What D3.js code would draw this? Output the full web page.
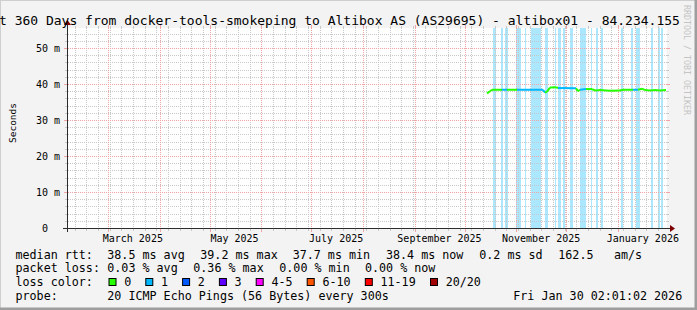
<!DOCTYPE html>
<html>
<head>
<meta charset="utf-8">
<script src="https://cdn.jsdelivr.net/npm/d3@7"></script>
<style>
  body { margin: 0; background: #f3f3f3; }
  svg { display: block; }
  text { font-family: "DejaVu Sans Mono", monospace; fill: #000; white-space: pre; }
</style>
</head>
<body>
<script>
// ---- data ----
let startTime = new Date(Date.UTC(2025, 1, 4, 12));
let endTime = new Date(Date.UTC(2026, 0, 30, 12));

let yTicksMajor = [0, 10, 20, 30, 40, 50];
let yTickLabels = [" 0", "10 m", "20 m", "30 m", "40 m", "50 m"];
let monthLabels = ["March 2025", "May 2025", "July 2025", "September 2025", "November 2025", "January 2026"];

// periods with one packet lost (light blue background)
let lossBands = [
    ["2025-10-18T07:00Z", "2025-10-19T17:00Z"],
    ["2025-10-22T22:00Z", "2025-10-24T02:00Z"],
    ["2025-10-25T07:00Z", "2025-10-26T22:00Z"],
    ["2025-10-31T22:00Z", "2025-11-03T17:00Z"],
    ["2025-11-06T12:00Z", "2025-11-07T02:00Z"],
    ["2025-11-09T22:00Z", "2025-11-15T17:00Z"],
    ["2025-11-18T12:00Z", "2025-11-20T02:00Z"],
    ["2025-11-24T07:00Z", "2025-11-25T02:00Z"],
    ["2025-11-26T02:00Z", "2025-11-27T22:00Z"],
    ["2025-11-29T07:00Z", "2025-11-30T12:00Z"],
    ["2025-12-03T07:00Z", "2025-12-05T02:00Z"],
    ["2025-12-09T07:00Z", "2025-12-12T22:00Z"],
    ["2025-12-15T22:00Z", "2025-12-16T16:00Z"],
    ["2025-12-18T22:00Z", "2025-12-20T02:00Z"],
    ["2025-12-21T22:00Z", "2025-12-23T02:00Z"],
    ["2026-01-02T22:00Z", "2026-01-03T22:00Z"],
    ["2026-01-08T17:00Z", "2026-01-09T22:00Z"],
    ["2026-01-11T22:00Z", "2026-01-14T07:00Z"],
    ["2026-01-20T17:00Z", "2026-01-21T22:00Z"],
    ["2026-01-24T22:00Z", "2026-01-26T03:00Z"],
    ["2026-01-26T22:00Z", "2026-01-27T22:00Z"]
];

// median rtt (ms) and loss count bucket of the following segment
let medianTimes = ["2025-10-14T12:00Z", "2025-10-16T07:00Z", "2025-10-17T12:00Z", "2025-10-23T12:00Z",
    "2025-10-26T12:00Z", "2025-11-01T12:00Z", "2025-11-17T02:00Z", "2025-11-18T07:00Z", "2025-11-19T12:00Z",
    "2025-11-21T07:00Z", "2025-11-24T22:00Z", "2025-11-26T02:00Z", "2025-12-06T22:00Z", "2025-12-08T02:00Z",
    "2025-12-09T07:00Z", "2025-12-12T22:00Z", "2025-12-16T12:00Z", "2025-12-18T07:00Z", "2025-12-21T07:00Z",
    "2025-12-27T07:00Z", "2026-01-02T07:00Z", "2026-01-04T02:00Z", "2026-01-10T02:00Z", "2026-01-13T02:00Z",
    "2026-01-15T12:00Z", "2026-01-17T07:00Z", "2026-01-20T07:00Z", "2026-01-23T07:00Z", "2026-01-26T07:00Z",
    "2026-01-29T22:00Z"];
let medianValues = [37.4, 38.0, 38.4, 38.4, 38.4, 38.4, 38.4, 37.6, 37.9, 39.0, 39.1, 38.9, 38.8, 38.0,
    38.4, 38.6, 38.6, 38.2, 38.3, 38.1, 38.2, 38.4, 38.4, 38.4, 38.7, 38.3, 38.2, 38.3, 38.2, 38.3];
let medianLoss = [0, 0, 0, 1, 0, 1, 1, 0, 0, 0, 0, 1, 0, 0, 1, 0, 0, 0, 0, 0, 0, 0, 1, 0, 0, 0, 0, 0, 0, 0];

let lossColors = ["#26ff00", "#00b8ff", "#0059ff", "#5e00ff", "#ff00ff", "#ff5500", "#ff0000", "#a10000"];
let lossNames = ["0", "1", "2", "3", "4-5", "6-10", "11-19", "20/20"];

// ---- layout ----
let W = 697, H = 310;
let plot = { left: 67, right: 667, top: 28, bottom: 228 };

let svg = d3.select("body").append("svg")
    .attr("width", W)
    .attr("height", H);

// dotted grid patterns (one pixel on, one off)
let defs = svg.append("defs");
function dotPattern(id, col, vertical) {
    let p = defs.append("pattern").attr("id", id).attr("patternUnits", "userSpaceOnUse")
        .attr("width", vertical ? 1 : 2).attr("height", vertical ? 2 : 1);
    p.append("rect").attr("width", 1).attr("height", 1).attr("fill", col);
}
let minorCol = "#c8c8c8", majorCol = "#f0a4a4";
dotPattern("minV", minorCol, true);
dotPattern("minH", minorCol, false);
dotPattern("majV", majorCol, true);
dotPattern("majH", majorCol, false);

svg.append("rect").attr("width", W).attr("height", H).attr("fill", "#f3f3f3");
// 3d frame
svg.append("path").attr("d", "M0,309V0H696").attr("stroke", "#cfcfcf").attr("stroke-width", 2).attr("fill", "none");
svg.append("path").attr("d", "M0,309H696V0").attr("stroke", "#9e9e9e").attr("stroke-width", 3).attr("fill", "none");

svg.append("rect")
    .attr("x", plot.left).attr("y", plot.top)
    .attr("width", plot.right - plot.left).attr("height", plot.bottom - plot.top)
    .attr("fill", "#ffffff");

let xScale = d3.scaleUtc().domain([startTime, endTime]).range([plot.left, plot.right]);
let yScale = d3.scaleLinear().domain([0, 55.556]).range([plot.bottom, plot.top]);

// loss background
svg.append("g").selectAll("rect")
    .data(lossBands)
    .enter().append("rect")
    .attr("x", (d) => Math.round(xScale(new Date(d[0]))))
    .attr("width", (d) => Math.max(1, Math.round(xScale(new Date(d[1]))) - Math.round(xScale(new Date(d[0])))))
    .attr("y", plot.top)
    .attr("height", plot.bottom - plot.top)
    .attr("fill", "#00b8ff")
    .attr("fill-opacity", 0.33);

// grid
let minorX = d3.utcSunday.range(startTime, endTime);
let majorX = d3.utcMonth.range(startTime, endTime);
let minorY = d3.range(2, 56, 2).filter((v) => v % 10 != 0);
let majorY = yTicksMajor.filter((v) => v > 0);

let grid = svg.append("g").attr("shape-rendering", "crispEdges");
function vline(x, major) {
    x = Math.round(x);
    let t = major ? 3 : 2;
    grid.append("rect").attr("x", x).attr("y", plot.top).attr("width", 1).attr("height", plot.bottom - plot.top)
        .attr("fill", major ? "url(#majV)" : "url(#minV)");
    grid.append("rect").attr("x", x).attr("y", plot.bottom + 1).attr("width", 1).attr("height", t)
        .attr("fill", major ? majorCol : minorCol);
    grid.append("rect").attr("x", x).attr("y", plot.top - t).attr("width", 1).attr("height", t)
        .attr("fill", major ? majorCol : minorCol);
}
function hline(y, major) {
    y = Math.round(y);
    let t = major ? 3 : 2;
    grid.append("rect").attr("x", plot.left).attr("y", y).attr("width", plot.right - plot.left).attr("height", 1)
        .attr("fill", major ? "url(#majH)" : "url(#minH)");
    grid.append("rect").attr("x", plot.left - t).attr("y", y).attr("width", t).attr("height", 1)
        .attr("fill", major ? majorCol : minorCol);
    grid.append("rect").attr("x", plot.right).attr("y", y).attr("width", t).attr("height", 1)
        .attr("fill", major ? majorCol : minorCol);
}
minorX.forEach((d) => vline(xScale(d), false));
minorY.forEach((d) => hline(yScale(d), false));
majorX.forEach((d) => vline(xScale(d), true));
majorY.forEach((d) => hline(yScale(d), true));

// median line, coloured by loss
let pts = medianTimes.map((t, i) => ({ t: new Date(t), v: medianValues[i], loss: medianLoss[i] }));
let line = d3.line().x((d) => xScale(d.t)).y((d) => yScale(d.v));
for (let i = 0; i < pts.length - 1; i++) {
    svg.append("path")
        .attr("d", line([pts[i], pts[i + 1]]))
        .attr("fill", "none")
        .attr("stroke", lossColors[pts[i].loss])
        .attr("stroke-width", 2);
}

// axes
svg.append("line").attr("x1", plot.left - 4).attr("x2", plot.right + 4)
    .attr("y1", plot.bottom + 0.5).attr("y2", plot.bottom + 0.5).attr("stroke", "#2c2c2c");
svg.append("line").attr("x1", plot.left + 0.5).attr("x2", plot.left + 0.5)
    .attr("y1", plot.bottom + 4).attr("y2", plot.top - 4).attr("stroke", "#2c2c2c");
svg.append("path")
    .attr("d", `M${plot.right + 3},${plot.bottom - 3}L${plot.right + 3},${plot.bottom + 4}L${plot.right + 8},${plot.bottom + 0.5}Z`)
    .attr("fill", "#7f0000");
svg.append("path")
    .attr("d", `M${plot.left - 3},${plot.top - 3}L${plot.left + 4},${plot.top - 3}L${plot.left + 0.5},${plot.top - 8}Z`)
    .attr("fill", "#7f0000");

// y labels
svg.selectAll(".ylab").data(yTicksMajor).enter().append("text")
    .attr("x", 36)
    .attr("y", (d) => yScale(d) + 3.8)
    .style("font-size", "10px")
    .text((d, i) => yTickLabels[i]);

svg.append("text")
    .attr("transform", "translate(15.5,123) rotate(-90)")
    .attr("text-anchor", "middle")
    .style("font-size", "9.5px")
    .text("Seconds");

// x labels (every second month, centred half a month after its start)
let labelMonths = d3.utcMonth.every(2).range(new Date(Date.UTC(2025, 2, 1)), endTime);
svg.selectAll(".xlab").data(labelMonths).enter().append("text")
    .attr("x", (d) => xScale(d3.utcDay.offset(d, 15)))
    .attr("y", 241.5)
    .attr("text-anchor", "middle")
    .style("font-size", "10px")
    .text((d, i) => monthLabels[i]);

// watermark
svg.append("text")
    .attr("transform", "translate(684,5) rotate(90)")
    .style("font-size", "8.3px")
    .style("fill", "#c4c4c4")
    .text("RRDTOOL / TOBI OETIKER");

// title
svg.append("text")
    .attr("x", -24.5)
    .attr("y", 24.5)
    .style("font-size", "13px")
    .text("Last 360 Days from docker-tools-smokeping to Altibox AS (AS29695) - altibox01 - 84.234.155");

// legend
let legendFont = "11.7px";
let rows = [
    { y: 258.5, items: [[15.5, "median rtt:"], [107.3, "38.5 ms avg"], [200.3, "39.2 ms max"], [292.7, "37.7 ms min"],
        [386, "38.4 ms now"], [479.3, "0.2 ms sd"], [558.3, "162.5"], [614, "am/s"]] },
    { y: 272.3, items: [[15.5, "packet loss:"], [107.3, "0.03 % avg"], [193.3, "0.36 % max"], [279.3, "0.00 % min"],
        [365, "0.00 % now"]] },
    { y: 286, items: [[15.5, "loss color:"]] },
    { y: 300, items: [[15.5, "probe:"], [107.3, "20 ICMP Echo Pings (56 Bytes) every 300s"], [513.3, "Fri Jan 30 02:01:02 2026"]] }
];
rows.forEach(function(r) {
    r.items.forEach(function(it) {
        svg.append("text").attr("x", it[0]).attr("y", r.y).style("font-size", legendFont).text(it[1]);
    });
});

let lx = 109;
lossNames.forEach(function(name, i) {
    svg.append("rect")
        .attr("x", lx).attr("y", 278.5)
        .attr("width", 7).attr("height", 7)
        .attr("fill", lossColors[i])
        .attr("stroke", "#000").attr("stroke-width", 1);
    svg.append("text").attr("x", lx + 15.2).attr("y", 286).style("font-size", legendFont).text(name);
    lx += 15.2 + name.length * 7.1 + 14.5;
});
</script>
</body>
</html>
